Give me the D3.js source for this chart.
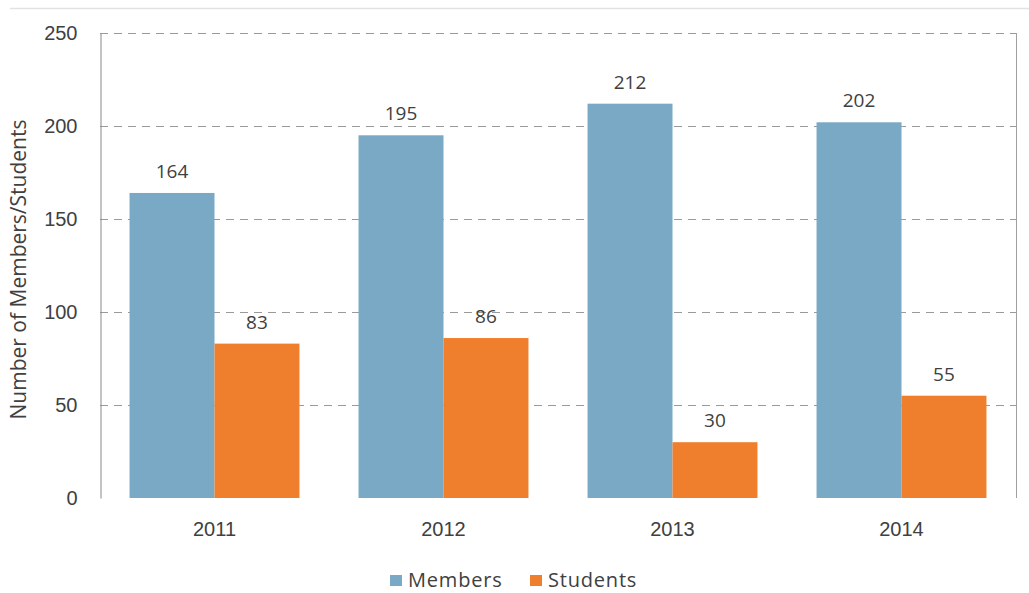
<!DOCTYPE html>
<html>
<head>
<meta charset="utf-8">
<script src="https://cdn.jsdelivr.net/npm/d3@7"></script>
<style>
  html, body { margin: 0; padding: 0; background: #fff; }
  svg { display: block; font-family: "Open Sans", "Liberation Sans", sans-serif; }
</style>
</head>
<body>
<svg id="chart" width="1029" height="593"></svg>
<script>
// Membership counts per year
const years = ["2011", "2012", "2013", "2014"];
const members = [164, 195, 212, 202];
const students = [83, 86, 30, 55];
const seriesNames = ["Members", "Students"];
const yTicks = [0, 50, 100, 150, 200, 250];

const colors = { Members: "#79a9c5", Students: "#f07f2d" };
const textColor = "#404040";

const svg = d3.select("#chart");
const W = 1029, H = 593;
const plot = { left: 100, right: 1016, top: 33, bottom: 498 };

// thin frame line across the top of the figure
svg.append("line")
  .attr("x1", 10).attr("x2", W).attr("y1", 8.5).attr("y2", 8.5)
  .attr("stroke", "#e2e2e2").attr("stroke-width", 1.5);

const rows = years.map((y, i) => ({ year: y, Members: members[i], Students: students[i] }));

const x0 = d3.scaleBand().domain(years).range([plot.left, plot.right]).paddingInner(0.258).paddingOuter(0.129);
const x1 = d3.scaleBand().domain(seriesNames).range([0, x0.bandwidth()]);
const y = d3.scaleLinear().domain([0, 250]).range([plot.bottom, plot.top]);

// dashed gridlines
svg.append("g").selectAll("line")
  .data(yTicks.filter(t => t > 0))
  .join("line")
  .attr("x1", plot.left).attr("x2", plot.right)
  .attr("y1", d => Math.round(y(d)) + 0.5).attr("y2", d => Math.round(y(d)) + 0.5)
  .attr("stroke", "#9a9a9a").attr("stroke-width", 1)
  .attr("stroke-dasharray", "8,6");

// right border of plot area
svg.append("line")
  .attr("x1", plot.right + 0.5).attr("x2", plot.right + 0.5)
  .attr("y1", plot.top).attr("y2", plot.bottom)
  .attr("stroke", "#a0a0a0");

// y axis
const yAxis = svg.append("g")
  .attr("transform", `translate(${plot.left + 0.5},0)`)
  .call(d3.axisLeft(y).tickValues(yTicks).tickSize(0).tickPadding(23));
yAxis.select(".domain").attr("stroke", "#888");
yAxis.selectAll("text").attr("fill", textColor).style("font-size", "20px");

// x axis labels (no axis line)
const xAxis = svg.append("g")
  .attr("transform", `translate(0,${plot.bottom})`)
  .call(d3.axisBottom(x0).tickSize(0).tickPadding(24));
xAxis.select(".domain").remove();
xAxis.selectAll("text").attr("fill", textColor).style("font-size", "20px");

// bars
const groups = svg.append("g").selectAll("g")
  .data(rows)
  .join("g")
  .attr("transform", d => `translate(${x0(d.year)},0)`);

groups.selectAll("rect")
  .data(d => seriesNames.map(k => ({ key: k, value: d[k] })))
  .join("rect")
  .attr("x", d => x1(d.key))
  .attr("width", x1.bandwidth())
  .attr("y", d => y(d.value))
  .attr("height", d => y(0) - y(d.value))
  .attr("fill", d => colors[d.key]);

groups.selectAll("text")
  .data(d => seriesNames.map(k => ({ key: k, value: d[k] })))
  .join("text")
  .attr("x", d => x1(d.key) + x1.bandwidth() / 2)
  .attr("y", d => y(d.value) - 15)
  .attr("text-anchor", "middle")
  .attr("fill", textColor)
  .style("font-size", "19px")
  .text(d => d.value);

// y axis title
svg.append("text")
  .attr("transform", `translate(26,${(plot.top + plot.bottom) / 2 + 4}) rotate(-90)`)
  .attr("text-anchor", "middle")
  .attr("fill", textColor)
  .style("font-size", "21px")
  .text("Number of Members/Students");

// legend
const legend = svg.append("g").attr("transform", "translate(390,580)");
const legendItems = [{ name: "Members", x: 0 }, { name: "Students", x: 140 }];
legendItems.forEach(it => {
  legend.append("rect")
    .attr("x", it.x).attr("y", -5).attr("width", 12).attr("height", 11)
    .attr("fill", colors[it.name]);
  legend.append("text")
    .attr("x", it.x + 18).attr("y", 0).attr("dy", "0.35em")
    .attr("fill", textColor)
    .style("font-size", "20px")
    .style("letter-spacing", "0.8px")
    .text(it.name);
});
</script>
</body>
</html>
